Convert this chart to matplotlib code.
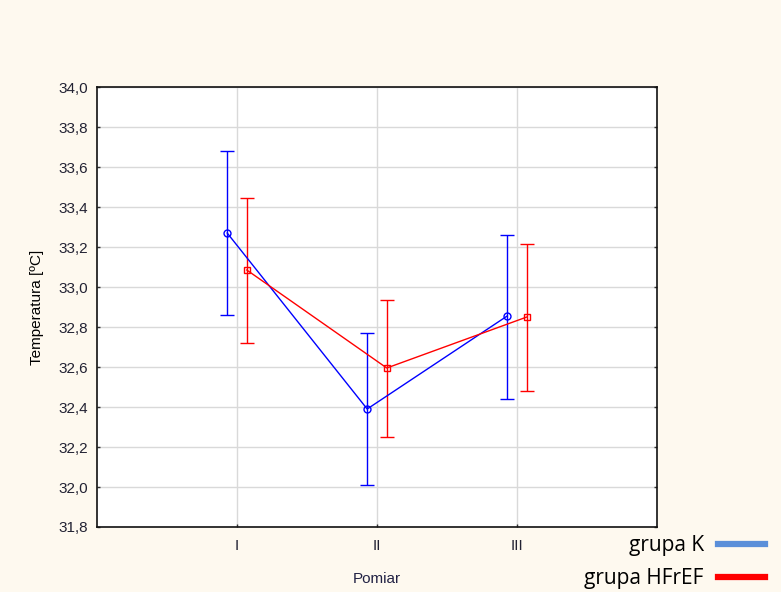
import matplotlib.pyplot as plt
import numpy as np

# measurements
pomiar = ['I', 'II', 'III']

# grupa K
k_mean = [33.27, 32.39, 32.855]
k_low = [32.86, 32.01, 32.44]
k_high = [33.68, 32.77, 33.26]

# grupa HFrEF
h_mean = [33.085, 32.595, 32.85]
h_low = [32.72, 32.25, 32.48]
h_high = [33.445, 32.935, 33.215]

bg = '#fef9ef'
fig = plt.figure(figsize=(7.81, 5.92), dpi=100)
fig.patch.set_facecolor(bg)
ax = fig.add_axes([0.1242, 0.1098, 0.7170, 0.7432])
ax.set_facecolor('white')

x = np.arange(len(pomiar))
off = 0.07

for xs, m, lo, hi, col, mk in [(x - off, k_mean, k_low, k_high, '#0000ff', 'o'),
                               (x + off, h_mean, h_low, h_high, '#ff0000', 's')]:
    m = np.array(m)
    err = [m - np.array(lo), np.array(hi) - m]
    ax.errorbar(xs, m, yerr=err, color=col, lw=1, marker=mk, ms=5,
                mfc='none', mec=col, mew=1, capsize=5, capthick=1, elinewidth=1)

ax.set_xlim(-1, 3)
ax.set_ylim(31.8, 34.0)
ax.set_xticks(x)
ax.set_xticklabels(pomiar, fontsize=11, family='Liberation Sans')
yt = np.arange(31.8, 34.01, 0.2)
ax.set_yticks(yt)
ax.set_yticklabels([f'{v:.1f}'.replace('.', ',') for v in yt],
                   fontsize=11, family='Liberation Sans')
ax.tick_params(direction='in', length=2.5, width=1, color='#333333',
               right=True, labelcolor='#222233')
ax.tick_params(axis='y', pad=6.5)
ax.tick_params(axis='x', pad=9)
ax.grid(True, color='#d9d9d9', lw=1)
ax.set_axisbelow(True)
for s in ax.spines.values():
    s.set_linewidth(1.2)
    s.set_color('#111111')

ax.set_ylabel('Temperatura [ºC]', fontsize=11, family='Liberation Sans', labelpad=10)
ax.set_xlabel('Pomiar', fontsize=11, family='Liberation Sans', labelpad=13, color='#222244')

# legend drawn as text + lines in figure coords
fig.text(0.901, 0.078, 'grupa K', ha='right', va='center', fontsize=15, family='Open Sans')
fig.text(0.901, 0.022, 'grupa HFrEF', ha='right', va='center', fontsize=15, family='Open Sans')
fig.add_artist(plt.Line2D([0.919, 0.979], [0.081, 0.081], color='#5b8fd9', lw=4.5))
fig.add_artist(plt.Line2D([0.919, 0.979], [0.025, 0.025], color='#ff0000', lw=4.5))

fig.savefig('out.png', dpi=100, facecolor=bg)
